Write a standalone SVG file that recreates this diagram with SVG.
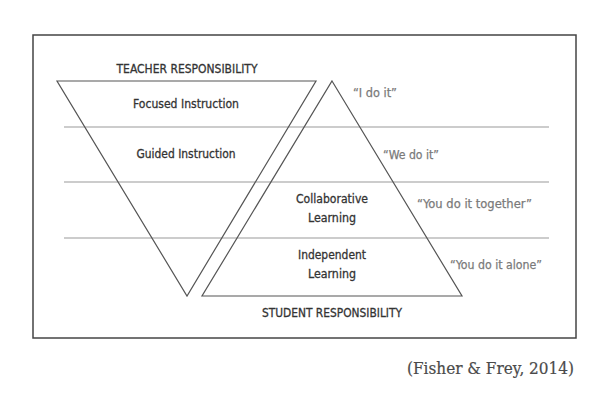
<svg xmlns="http://www.w3.org/2000/svg" width="610" height="409" viewBox="0 0 610 409">
<style>
.lbl{font-family:"Liberation Sans Narrow","DejaVu Sans Condensed","Liberation Sans",sans-serif;font-size:13px;fill:#333;stroke:#333;stroke-width:0.3;text-anchor:middle}
.q{font-family:"Liberation Sans Narrow","DejaVu Sans Condensed","Liberation Sans",sans-serif;font-size:13px;fill:#7a7a7a;stroke:#7a7a7a;stroke-width:0.25}
.tri{fill:none;stroke:#555;stroke-width:1.2}
.band{stroke:#999;stroke-width:1}
</style>
<rect width="610" height="409" fill="#fff"/>
<rect id="frame" x="33" y="35" width="543" height="303" fill="none" stroke="#444" stroke-width="1.5"/>
<g id="connectors">
<line class="band" x1="64" y1="127" x2="549" y2="127"/>
<line class="band" x1="64" y1="182" x2="549" y2="182"/>
<line class="band" x1="64" y1="238" x2="549" y2="238"/>
</g>
<g id="teacher">
<polygon class="tri" points="57,81 316,81 187,296"/>
<text class="lbl" x="187" y="73" textLength="141" lengthAdjust="spacingAndGlyphs">TEACHER RESPONSIBILITY</text>
<text class="lbl" x="186" y="108" textLength="106" lengthAdjust="spacingAndGlyphs">Focused Instruction</text>
<text class="lbl" x="186" y="158" textLength="99" lengthAdjust="spacingAndGlyphs">Guided Instruction</text>
</g>
<g id="student">
<polygon class="tri" points="332,81 462,296 202,296"/>
<text class="lbl" x="332" y="203" textLength="72" lengthAdjust="spacingAndGlyphs">Collaborative</text>
<text class="lbl" x="332" y="222" textLength="48" lengthAdjust="spacingAndGlyphs">Learning</text>
<text class="lbl" x="332" y="259" textLength="68" lengthAdjust="spacingAndGlyphs">Independent</text>
<text class="lbl" x="332" y="278" textLength="48" lengthAdjust="spacingAndGlyphs">Learning</text>
<text class="lbl" x="332" y="317" textLength="140" lengthAdjust="spacingAndGlyphs">STUDENT RESPONSIBILITY</text>
</g>
<g id="quotes">
<text class="q" x="353" y="97" textLength="44" lengthAdjust="spacingAndGlyphs">“I do it”</text>
<text class="q" x="383" y="159" textLength="56" lengthAdjust="spacingAndGlyphs">“We do it”</text>
<text class="q" x="417" y="208" textLength="115" lengthAdjust="spacingAndGlyphs">“You do it together”</text>
<text class="q" x="450" y="269" textLength="92" lengthAdjust="spacingAndGlyphs">“You do it alone”</text>
</g>
<text id="citation" x="407" y="374" font-family="'DejaVu Serif','Liberation Serif',serif" font-size="16.5" fill="#4a4a4a" stroke="#4a4a4a" stroke-width="0.2" textLength="167" lengthAdjust="spacingAndGlyphs">(Fisher &amp; Frey, 2014)</text>
</svg>
